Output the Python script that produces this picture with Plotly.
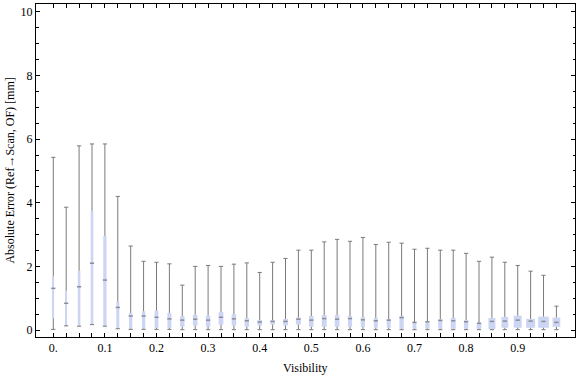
import plotly.graph_objects as go

visibility = [0.0, 0.025, 0.05, 0.075, 0.1, 0.125, 0.15, 0.175, 0.2, 0.225,
              0.25, 0.275, 0.3, 0.325, 0.35, 0.375, 0.4, 0.425, 0.45, 0.475,
              0.5, 0.525, 0.55, 0.575, 0.6, 0.625, 0.65, 0.675, 0.7, 0.725,
              0.75, 0.775, 0.8, 0.825, 0.85, 0.875, 0.9, 0.925, 0.95, 0.975]
whisker_low = [0.02, 0.13, 0.12, 0.17, 0.12, 0.04, 0.02, 0.02, 0.02, 0.02,
               0.01, 0.01, 0.01, 0.01, 0.01, 0.01, 0.01, 0.01, 0.01, 0.01,
               0.01, 0.01, 0.01, 0.01, 0.01, 0.01, 0.01, 0.01, 0.01, 0.01,
               0.01, 0.01, 0.01, 0.01, 0.01, 0.01, 0.01, 0.01, 0.01, 0.01]
q1 = [0.37, 0.16, 0.13, 0.19, 0.13, 0.06, 0.04, 0.04, 0.06, 0.06,
      0.10, 0.14, 0.10, 0.17, 0.14, 0.10, 0.14, 0.17, 0.14, 0.17,
      0.10, 0.10, 0.10, 0.10, 0.09, 0.07, 0.07, 0.04, 0.04, 0.04,
      0.04, 0.04, 0.04, 0.04, 0.03, 0.07, 0.07, 0.07, 0.07, 0.10]
median = [1.31, 0.84, 1.36, 2.10, 1.57, 0.71, 0.44, 0.44, 0.40, 0.35,
          0.31, 0.34, 0.31, 0.40, 0.35, 0.29, 0.25, 0.27, 0.27, 0.34,
          0.31, 0.36, 0.34, 0.36, 0.32, 0.29, 0.31, 0.39, 0.24, 0.26,
          0.30, 0.29, 0.26, 0.21, 0.27, 0.28, 0.31, 0.28, 0.27, 0.24]
q3 = [1.68, 1.23, 1.86, 3.74, 2.96, 0.89, 0.54, 0.59, 0.61, 0.54,
      0.44, 0.48, 0.45, 0.57, 0.50, 0.38, 0.31, 0.31, 0.35, 0.39,
      0.44, 0.47, 0.47, 0.44, 0.41, 0.38, 0.34, 0.44, 0.25, 0.25,
      0.34, 0.38, 0.31, 0.22, 0.38, 0.41, 0.45, 0.35, 0.42, 0.39]
whisker_high = [5.43, 3.86, 5.79, 5.85, 5.85, 4.20, 2.64, 2.16, 2.13, 2.08,
                1.41, 2.00, 2.03, 2.00, 2.07, 2.11, 1.81, 2.13, 2.25, 2.51,
                2.51, 2.77, 2.85, 2.79, 2.91, 2.69, 2.76, 2.73, 2.54, 2.57,
                2.51, 2.51, 2.41, 2.16, 2.29, 2.13, 2.03, 1.85, 1.72, 0.75]
# relative box widths (as drawn by the original chart)
box_width = [0.003, 0.003, 0.005, 0.0052, 0.0064, 0.0058, 0.0064, 0.0064, 0.0072, 0.0078,
             0.0084, 0.0088, 0.0086, 0.0092, 0.0086, 0.0084, 0.0092, 0.0088, 0.0092, 0.0098,
             0.0088, 0.0094, 0.009, 0.008, 0.0082, 0.0078, 0.0078, 0.0084, 0.0072, 0.0084,
             0.0078, 0.0097, 0.0084, 0.0091, 0.0136, 0.013, 0.0155, 0.0174, 0.0207, 0.0149]
tick_labels = ["0.", "0.1", "0.2", "0.3", "0.4", "0.5", "0.6", "0.7", "0.8", "0.9"]

BOX = "#cdd5f4"
GRAY = "#7a7a7a"
FONT = "Liberation Serif"

# whisker segments (outside the boxes)
wx, wy = [], []
for x, lo, a, b, hi in zip(visibility, whisker_low, q1, q3, whisker_high):
    wx += [x, x, None, x, x, None]
    wy += [lo, a, None, b, hi, None]

fig = go.Figure()
fig.add_trace(go.Bar(
    x=visibility, y=[b - a for a, b in zip(q1, q3)], base=q1, width=box_width,
    marker=dict(color=BOX, line=dict(width=0)), hoverinfo="skip"))
fig.add_trace(go.Scatter(x=wx, y=wy, mode="lines",
                         line=dict(color=GRAY, width=1), hoverinfo="skip"))
fig.add_trace(go.Scatter(
    x=visibility + visibility, y=whisker_low + whisker_high, mode="markers",
    marker=dict(symbol="line-ew", size=3, line=dict(color=GRAY, width=1)),
    hoverinfo="skip"))
fig.add_trace(go.Scatter(
    x=visibility, y=median, mode="markers",
    marker=dict(symbol="line-ew", size=3, line=dict(color="#8c8c96", width=1.5)),
    hoverinfo="skip"))

tickvals = visibility
ticktext = []
j = 0
for i, v in enumerate(visibility):
    if i % 4 == 0:
        ticktext.append(tick_labels[j]); j += 1
    else:
        ticktext.append("")

fig.update_layout(
    width=576, height=377, showlegend=False, barmode="overlay",
    plot_bgcolor="white", paper_bgcolor="white",
    margin=dict(l=36, r=1, t=4, b=40, autoexpand=False),
    font=dict(family=FONT, size=12, color="black"),
    xaxis=dict(range=[-0.0335, 1.011], tickvals=tickvals, ticktext=ticktext,
               ticks="inside", ticklen=4, tickcolor="black", showline=True,
               linecolor="black", linewidth=1, mirror="allticks", automargin=False,
               showgrid=False, zeroline=False, tickfont=dict(size=12)),
    yaxis=dict(range=[-0.22, 10.25], tickvals=[0, 2, 4, 6, 8, 10],
               ticks="inside", ticklen=4, tickcolor="black", showline=True,
               linecolor="black", linewidth=1, mirror="allticks", automargin=False,
               showgrid=False, zeroline=False, tickfont=dict(size=12),
               minor=dict(dtick=0.5, tick0=0, ticks="inside", ticklen=2.5,
                          tickcolor="black", showgrid=False)),
    annotations=[
        dict(text="Absolute Error (Ref\u2192Scan, OF) [mm]", xref="paper", yref="paper",
             x=-0.05, y=0.5, xanchor="center", yanchor="middle", textangle=-90,
             showarrow=False, font=dict(family=FONT, size=12)),
        dict(text="Visibility", xref="paper", yref="paper",
             x=0.5, y=-0.093, xanchor="center", yanchor="middle",
             showarrow=False, font=dict(family=FONT, size=12)),
    ],
)
fig.write_html("out.html", config={"displayModeBar": False},
               post_script="document.body.style.margin='0px';document.body.style.overflow='hidden';")
